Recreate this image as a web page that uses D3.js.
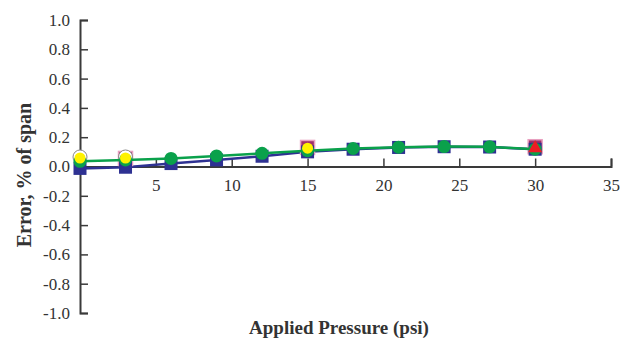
<!DOCTYPE html>
<html>
<head>
<meta charset="utf-8">
<script src="https://cdn.jsdelivr.net/npm/d3@7"></script>
<style>
  body { margin: 0; background: #fff; }
  svg { font-family: "Liberation Serif", "DejaVu Serif", serif; }
</style>
</head>
<body>
<div id="chart"></div>
<script>
// pressure points (psi)
let pressure = [0, 3, 6, 9, 12, 15, 18, 21, 24, 27, 30];

// error, % of span
let navyRun  = [-0.013, -0.005, 0.02, 0.045, 0.07, 0.1, 0.118, 0.13, 0.135, 0.133, 0.118];
let greenRun = [0.035, 0.045, 0.055, 0.072, 0.09, 0.108, 0.123, 0.132, 0.136, 0.134, 0.118];

// sparse check points
let pinkX = [3, 15, 30],   pinkY = [0.055, 0.13, 0.135];
let grayX = [0, 3],        grayY = [0.065, 0.065];
let yellowX = [0, 3, 15],  yellowY = [0.058, 0.058, 0.125];
let redX = [30],           redY = [0.125];

let xTicks = [5, 10, 15, 20, 25, 30, 35];
let yTicks = [1.0, 0.8, 0.6, 0.4, 0.2, 0.0, -0.2, -0.4, -0.6, -0.8, -1.0];

let WIDTH = 634, HEIGHT = 341;

let svg = d3.select('#chart')
    .append('svg')
    .attr('width', WIDTH)
    .attr('height', HEIGHT);

let x = d3.scaleLinear().domain([0, 35]).range([80, 611]);
let y = d3.scaleLinear().domain([-1, 1]).range([313, 20]);

let AXIS = '#3a3a3a';

// y axis, ticks pointing inward (right)
let yAxis = svg.append('g')
    .attr('transform', `translate(${x(0)},0)`)
    .call(d3.axisLeft(y).tickValues(yTicks).tickSize(-8).tickPadding(10)
        .tickFormat(d => d3.format('.1f')(d).replace('−', '-')));
yAxis.select('.domain').attr('stroke', AXIS).attr('stroke-width', 2);
yAxis.selectAll('.tick line').attr('stroke', AXIS).attr('stroke-width', 1.5);
yAxis.selectAll('.tick text').attr('font-size', 17).attr('fill', '#333')
    .attr('font-family', '"Liberation Serif", serif');

// x axis on zero line, ticks pointing up
let xAxis = svg.append('g')
    .attr('transform', `translate(0,${y(0)})`)
    .call(d3.axisBottom(x).tickValues(xTicks).tickSize(-8).tickPadding(12));
xAxis.select('.domain').attr('stroke', AXIS).attr('stroke-width', 2);
xAxis.selectAll('.tick line').attr('stroke', AXIS).attr('stroke-width', 1.5);
xAxis.selectAll('.tick text').attr('font-size', 17).attr('fill', '#333')
    .attr('font-family', '"Liberation Serif", serif');

// titles
svg.append('text')
    .attr('x', 339).attr('y', 334)
    .attr('text-anchor', 'middle')
    .attr('font-size', 19).attr('font-weight', 'bold').attr('fill', '#333')
    .text('Applied Pressure (psi)');

svg.append('text')
    .attr('transform', `translate(31,175) rotate(-90)`)
    .attr('text-anchor', 'middle')
    .attr('font-size', 20).attr('font-weight', 'bold').attr('fill', '#333')
    .text('Error, % of span');

let line = d3.line()
    .x((d, i) => x(pressure[i]))
    .y(d => y(d));

// navy run
svg.append('path')
    .datum(navyRun)
    .attr('d', line)
    .attr('fill', 'none')
    .attr('stroke', '#2e3192')
    .attr('stroke-width', 2.5);

// pink open squares (behind)
svg.selectAll('.pink')
    .data(pinkX)
    .enter()
    .append('rect')
    .attr('x', (d, i) => x(d) - 7)
    .attr('y', (d, i) => y(pinkY[i]) - 7)
    .attr('width', 14).attr('height', 14)
    .attr('fill', '#a0306a')
    .attr('stroke', '#e8a0c0')
    .attr('stroke-width', 1.5);

svg.selectAll('.gray')
    .data(grayX)
    .enter()
    .append('circle')
    .attr('cx', d => x(d))
    .attr('cy', (d, i) => y(grayY[i]))
    .attr('r', 7)
    .attr('fill', '#fff')
    .attr('stroke', '#888')
    .attr('stroke-width', 1);

svg.selectAll('.navy')
    .data(navyRun)
    .enter()
    .append('rect')
    .attr('x', (d, i) => x(pressure[i]) - 6.5)
    .attr('y', d => y(d) - 6.5)
    .attr('width', 13).attr('height', 13)
    .attr('fill', '#2e3192');

// green run
svg.append('path')
    .datum(greenRun)
    .attr('d', line)
    .attr('fill', 'none')
    .attr('stroke', '#0aa14b')
    .attr('stroke-width', 2.5);

svg.selectAll('.green')
    .data(greenRun)
    .enter()
    .append('circle')
    .attr('cx', (d, i) => x(pressure[i]))
    .attr('cy', d => y(d))
    .attr('r', 6.5)
    .attr('fill', '#0aa14b');

svg.selectAll('.yellow')
    .data(yellowX)
    .enter()
    .append('circle')
    .attr('cx', d => x(d))
    .attr('cy', (d, i) => y(yellowY[i]))
    .attr('r', 5.5)
    .attr('fill', '#fff200');

svg.selectAll('.red')
    .data(redX)
    .enter()
    .append('path')
    .attr('transform', (d, i) => `translate(${x(d)},${y(redY[i])})`)
    .attr('d', d3.symbol().type(d3.symbolTriangle).size(85))
    .attr('fill', '#ed1c24');
</script>
</body>
</html>
